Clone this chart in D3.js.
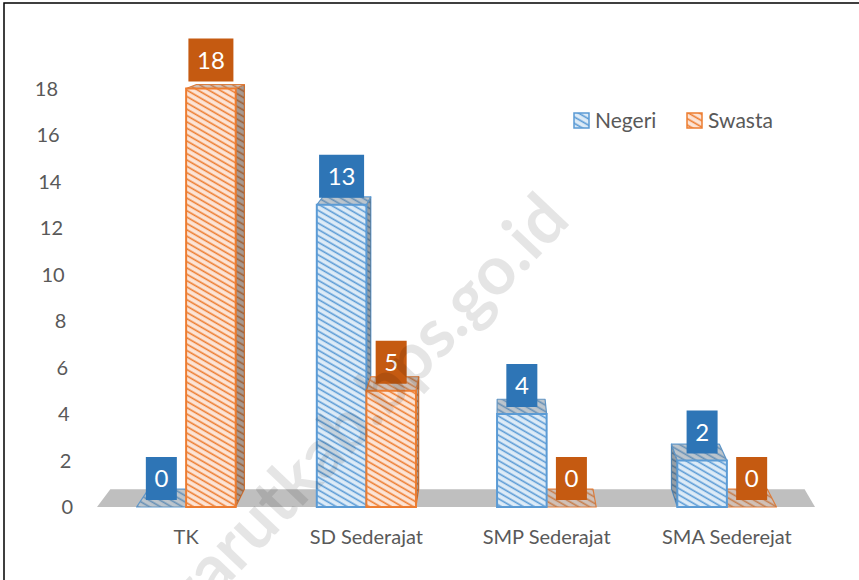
<!DOCTYPE html>
<html>
<head>
<meta charset="utf-8">
<script src="https://cdn.jsdelivr.net/npm/d3@7"></script>
<style>
  body { margin: 0; background: #fff; }
  svg { display: block; font-family: Lato, "Open Sans", sans-serif; }
</style>
</head>
<body>
<script>
// data
const categories = ["TK", "SD Sederajat", "SMP Sederajat", "SMA Sederejat"]
const seriesNames = ["Negeri", "Swasta"]
const negeri = [0, 13, 4, 2]
const swasta = [18, 5, 0, 0]
const yTicks = [0, 2, 4, 6, 8, 10, 12, 14, 16, 18]

const W = 859, H = 580
const colors = {
  Negeri: { bg: "#DDEBF7", line: "#5B9BD5", box: "#2E75B6" },
  Swasta: { bg: "#FCE4D6", line: "#ED7D31", box: "#C55A11" }
}

const svg = d3.select("body").append("svg")
  .attr("width", W)
  .attr("height", H)

// motifs hachurés
const defs = svg.append("defs")
seriesNames.forEach(name => {
  const p = defs.append("pattern")
    .attr("id", "hatch-" + name)
    .attr("patternUnits", "userSpaceOnUse")
    .attr("width", 8).attr("height", 5.5)
    .attr("patternTransform", "rotate(30)")
  p.append("rect").attr("width", 8).attr("height", 5.5).attr("fill", colors[name].bg)
  p.append("line").attr("x1", 0).attr("x2", 8).attr("y1", 1.2).attr("y2", 1.2)
    .attr("stroke", colors[name].line).attr("stroke-width", 1.6)
})

// cadre
svg.append("rect")
  .attr("x", 4).attr("y", 3)
  .attr("width", W + 10).attr("height", H + 10)
  .attr("fill", "none").attr("stroke", "#000").attr("stroke-width", 1.5)

// échelles
const x0 = d3.scaleBand().domain(categories).range([96, 817])
  .paddingInner(0.45).paddingOuter(0.225)
const x1 = d3.scaleBand().domain(seriesNames).range([0, x0.bandwidth()])
const y = d3.scaleLinear().domain([0, 18]).range([507, 88.5])

// perspective : point de fuite
const V = { x: 500, y: -33 }, k = 0.033
const back = (px, py) => [px + k * (V.x - px), py + k * (V.y - py)]

// sol
const floorY = y(0)
const fl = [[97, floorY], [815, floorY], back(815, floorY), back(97, floorY)]
svg.append("polygon")
  .attr("points", fl.map(p => p.join(",")).join(" "))
  .attr("fill", "#BFBFBF")

// axe y (labels en perspective)
const yAxis = svg.append("g")
yAxis.selectAll("text")
  .data(yTicks)
  .join("text")
  .attr("x", d => 73 - d / 18 * 15)
  .attr("y", d => y(d))
  .attr("dy", "0.35em")
  .attr("text-anchor", "end")
  .attr("font-size", 20)
  .attr("fill", "#595959")
  .text(d => d)

// barres
let bars = []
categories.forEach((c, i) => {
  bars.push({ cat: c, s: "Negeri", v: negeri[i] })
  bars.push({ cat: c, s: "Swasta", v: swasta[i] })
})
bars.forEach(b => {
  b.xa = x0(b.cat) + x1(b.s)
  b.xb = b.xa + x1.bandwidth()
  b.yt = y(b.v)
  b.yb = y(0)
})
// dessiner d'abord les barres les plus éloignées du point de fuite
const order = bars.slice().sort((a, b) =>
  Math.abs((b.xa + b.xb) / 2 - V.x) - Math.abs((a.xa + a.xb) / 2 - V.x))

const gBars = svg.append("g")
const pts = arr => arr.map(p => p.join(",")).join(" ")
order.forEach(b => {
  const g = gBars.append("g")
  const fill = "url(#hatch-" + b.s + ")"
  const stroke = colors[b.s].line
  // face latérale
  let side
  if (b.xb < V.x) side = [[b.xb, b.yt], [b.xb, b.yb], back(b.xb, b.yb), back(b.xb, b.yt)]
  else if (b.xa > V.x) side = [[b.xa, b.yt], [b.xa, b.yb], back(b.xa, b.yb), back(b.xa, b.yt)]
  if (side && b.v > 0) {
    g.append("polygon").attr("points", pts(side)).attr("fill", fill)
      .attr("stroke", stroke).attr("stroke-width", 1.2).attr("stroke-linejoin", "round")
    g.append("polygon").attr("points", pts(side)).attr("fill", "#404040").attr("opacity", 0.45)
  }
  // face supérieure
  const top = [[b.xa, b.yt], [b.xb, b.yt], back(b.xb, b.yt), back(b.xa, b.yt)]
  g.append("polygon").attr("points", pts(top)).attr("fill", fill)
    .attr("stroke", stroke).attr("stroke-width", 1.2).attr("stroke-linejoin", "round")
  g.append("polygon").attr("points", pts(top)).attr("fill", "#7F7F7F").attr("opacity", 0.35)
  // face avant
  if (b.v > 0) {
    g.append("rect")
      .attr("x", b.xa).attr("y", b.yt)
      .attr("width", b.xb - b.xa).attr("height", b.yb - b.yt)
      .attr("fill", fill)
      .attr("stroke", stroke).attr("stroke-width", 2)
  }
})

// étiquettes de valeur
const gLab = svg.append("g")
bars.forEach(b => {
  const txt = String(b.v)
  const bw = txt.length > 1 ? 45 : 31
  const cx = (b.xa + b.xb) / 2
  const by = b.yt - 7
  gLab.append("rect")
    .attr("x", cx - bw / 2).attr("y", by - 43)
    .attr("width", bw).attr("height", 43)
    .attr("fill", colors[b.s].box)
  gLab.append("text")
    .attr("x", cx).attr("y", by - 21.5)
    .attr("dy", "0.36em")
    .attr("text-anchor", "middle")
    .attr("font-size", 24)
    .attr("fill", "#fff")
    .text(txt)
})

// axe x
svg.append("g").selectAll("text")
  .data(categories)
  .join("text")
  .attr("x", d => x0(d) + x0.bandwidth() / 2)
  .attr("y", 544)
  .attr("text-anchor", "middle")
  .attr("font-size", 20)
  .attr("fill", "#595959")
  .text(d => d)

// légende
const legX = [574, 687]
const leg = svg.append("g")
seriesNames.forEach((name, i) => {
  leg.append("rect")
    .attr("x", legX[i]).attr("y", 113)
    .attr("width", 15).attr("height", 15)
    .attr("fill", "url(#hatch-" + name + ")")
    .attr("stroke", colors[name].line).attr("stroke-width", 1.5)
  leg.append("text")
    .attr("x", legX[i] + 21).attr("y", 128)
    .attr("font-size", 21)
    .attr("fill", "#595959")
    .text(name)
})

// filigrane
svg.append("text")
  .attr("transform", "translate(572,222) rotate(-46.5)")
  .attr("text-anchor", "end")
  .attr("font-size", 68)
  .attr("font-weight", "bold")
  .attr("fill", "#000")
  .attr("fill-opacity", 0.1)
  .text("garutkab.bps.go.id")
</script>
</body>
</html>
